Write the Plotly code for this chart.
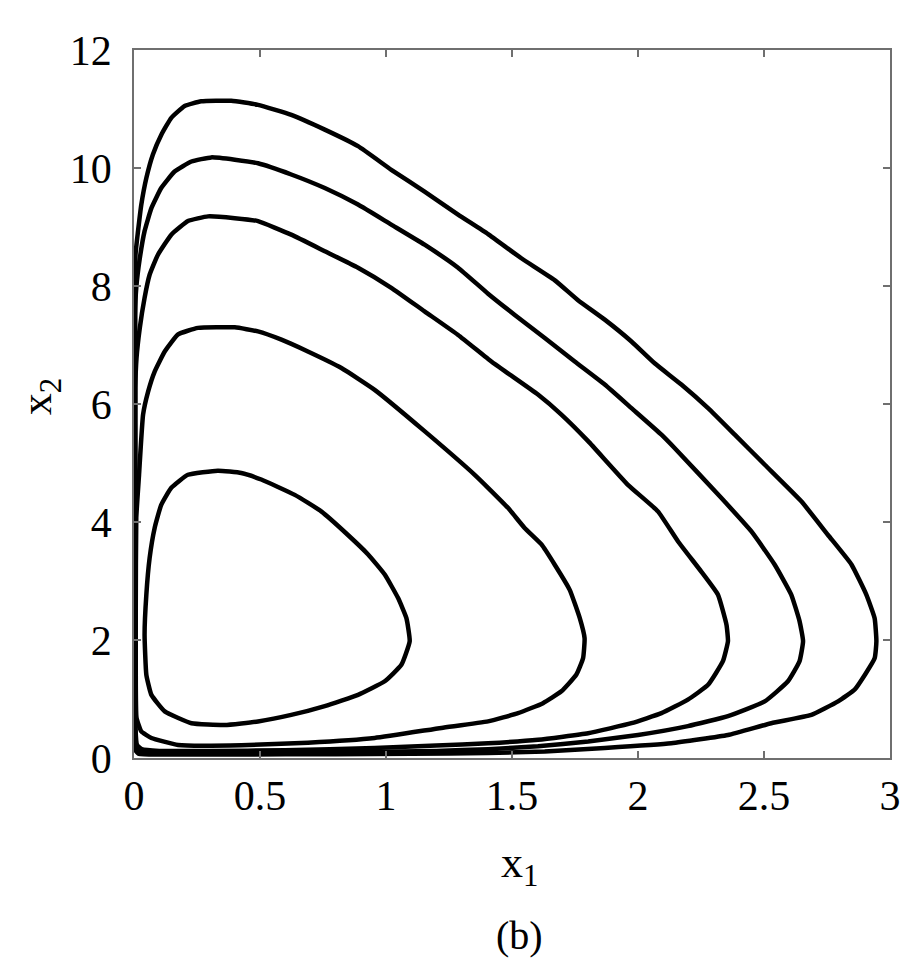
import plotly.graph_objects as go

# Traced orbits (x1, x2) for five closed trajectories, innermost to outermost
c1_x1 = [0.333, 0.426, 0.505, 0.638, 0.743, 0.849, 0.929, 0.995, 1.048, 1.081, 1.094, 1.061, 0.995, 0.889,
         0.757, 0.624, 0.492, 0.36, 0.228, 0.122, 0.069, 0.049, 0.042, 0.049, 0.062, 0.082, 0.108, 0.148,
         0.214, 0.333]
c1_x2 = [4.87, 4.83, 4.72, 4.46, 4.18, 3.78, 3.45, 3.11, 2.71, 2.37, 1.98, 1.58, 1.30, 1.07,
         0.88, 0.73, 0.62, 0.56, 0.59, 0.79, 1.07, 1.41, 2.09, 2.77, 3.39, 3.90, 4.29, 4.58,
         4.80, 4.87]

c2_x1 = [0.40, 0.492, 0.585, 0.690, 0.823, 0.955, 1.153, 1.352, 1.405, 1.484, 1.550, 1.617, 1.669,
         1.729, 1.769, 1.788, 1.782, 1.755, 1.696, 1.623, 1.524, 1.405, 1.22, 0.955, 0.69, 0.426, 0.175,
         0.069, 0.029, 0.010, 0.007, 0.007, 0.009, 0.020, 0.036, 0.056, 0.082, 0.122, 0.175, 0.254, 0.40]
c2_x2 = [7.30, 7.23, 7.09, 6.89, 6.61, 6.24, 5.54, 4.80, 4.58, 4.24, 3.90, 3.62, 3.28,
         2.85, 2.37, 2.03, 1.69, 1.41, 1.13, 0.93, 0.76, 0.62, 0.51, 0.34, 0.26, 0.215, 0.22,
         0.34, 0.45, 0.68, 1.5, 2.54, 4.07, 4.80, 5.82, 6.21, 6.55, 6.89, 7.18, 7.29, 7.30]

c3_x1 = [0.40, 0.492, 0.624, 0.757, 0.889, 1.021, 1.153, 1.286, 1.418, 1.484, 1.603, 1.696, 1.802, 1.960,
         2.079, 2.159, 2.251, 2.317, 2.351, 2.357, 2.337, 2.278, 2.198, 2.093, 1.974, 1.802, 1.603, 1.405,
         1.2, 0.955, 0.6, 0.3, 0.1, 0.03, 0.012, 0.006, 0.005, 0.005, 0.010, 0.023, 0.042, 0.062,
         0.095, 0.148, 0.214, 0.294, 0.40]
c3_x2 = [9.15, 9.10, 8.87, 8.59, 8.31, 7.97, 7.57, 7.17, 6.72, 6.52, 6.16, 5.82, 5.37, 4.63,
         4.18, 3.67, 3.16, 2.77, 2.26, 1.98, 1.64, 1.24, 0.99, 0.76, 0.59, 0.42, 0.31, 0.25,
         0.21, 0.17, 0.13, 0.12, 0.12, 0.15, 0.22, 0.5, 3.0, 6.27, 6.78, 7.29, 7.80, 8.19,
         8.53, 8.87, 9.10, 9.18, 9.15]

c4_x1 = [0.40, 0.492, 0.624, 0.757, 0.889, 1.021, 1.153, 1.286, 1.405, 1.511, 1.630, 1.749, 1.868, 1.974,
         2.093, 2.146, 2.33, 2.45, 2.542, 2.608, 2.641, 2.655, 2.641, 2.595, 2.503, 2.357, 2.198, 2.0,
         1.802, 1.603, 1.405, 1.2, 0.9, 0.5, 0.2, 0.05, 0.012, 0.005, 0.004, 0.004, 0.009, 0.023,
         0.042, 0.069, 0.108, 0.161, 0.228, 0.307, 0.40]
c4_x2 = [10.14, 10.08, 9.89, 9.66, 9.38, 9.04, 8.70, 8.31, 7.87, 7.51, 7.12, 6.72, 6.33, 5.93,
         5.48, 5.25, 4.41, 3.84, 3.28, 2.77, 2.32, 1.98, 1.64, 1.30, 0.96, 0.71, 0.54, 0.39,
         0.28, 0.20, 0.15, 0.12, 0.10, 0.09, 0.09, 0.10, 0.14, 0.3, 4.0, 7.51, 7.97, 8.47,
         8.93, 9.32, 9.66, 9.94, 10.11, 10.18, 10.14]

c5_x1 = [0.386, 0.492, 0.624, 0.757, 0.889, 1.021, 1.153, 1.286, 1.405, 1.537, 1.669, 1.762, 1.868, 1.974,
         2.066, 2.172, 2.278, 2.384, 2.503, 2.648, 2.754, 2.847, 2.906, 2.939, 2.946, 2.939, 2.860, 2.794,
         2.688, 2.529, 2.357, 2.132, 1.868, 1.630, 1.405, 1.1, 0.8, 0.4, 0.1, 0.02, 0.007, 0.005,
         0.005, 0.006, 0.016, 0.029, 0.049, 0.075, 0.108, 0.148, 0.201, 0.267, 0.386]
c5_x2 = [11.14, 11.07, 10.90, 10.65, 10.37, 9.97, 9.60, 9.21, 8.88, 8.47, 8.10, 7.76, 7.43, 7.06,
         6.69, 6.33, 5.93, 5.48, 4.97, 4.35, 3.78, 3.28, 2.77, 2.37, 1.98, 1.69, 1.16, 0.96,
         0.73, 0.59, 0.39, 0.25, 0.17, 0.11, 0.085, 0.07, 0.065, 0.06, 0.06, 0.07, 0.12, 0.3,
         5.0, 8.53, 8.93, 9.38, 9.83, 10.23, 10.56, 10.85, 11.05, 11.13, 11.14]

curves = [(c1_x1, c1_x2), (c2_x1, c2_x2), (c3_x1, c3_x2), (c4_x1, c4_x2), (c5_x1, c5_x2)]

x_tickvals = [0, 0.5, 1, 1.5, 2, 2.5, 3]
x_ticktext = ["0", "0.5", "1", "1.5", "2", "2.5", "3"]
y_tickvals = [0, 2, 4, 6, 8, 10, 12]
y_ticktext = ["0", "2", "4", "6", "8", "10", "12"]

FONT = "Liberation Serif"
AX = "#6f6f6f"

fig = go.Figure()
for xs, ys in curves:
    fig.add_trace(go.Scatter(x=xs, y=ys, mode="lines",
                             line=dict(color="black", width=4.5, shape="spline", smoothing=0.4),
                             showlegend=False, hoverinfo="skip"))

axis_common = dict(showgrid=False, zeroline=False, showline=True, linecolor=AX, linewidth=1.5,
                   mirror="ticks", ticks="inside", ticklen=7, tickwidth=1.5, tickcolor=AX,
                   tickfont=dict(family=FONT, size=42, color="black"))

fig.update_layout(
    width=912, height=964,
    margin=dict(l=126, r=30, t=42, b=214),
    paper_bgcolor="white", plot_bgcolor="white",
    xaxis=dict(range=[0, 3], tickvals=x_tickvals, ticktext=x_ticktext,
               ticklabelstandoff=0, **axis_common),
    yaxis=dict(range=[0, 12], tickvals=y_tickvals, ticktext=y_ticktext,
               ticklabelstandoff=12, **axis_common),
    annotations=[
        dict(text="x<sub>1</sub>", xref="paper", yref="paper", x=0.51, y=-0.152,
             xanchor="center", yanchor="middle", showarrow=False,
             font=dict(family=FONT, size=44, color="black")),
        dict(text="(b)", xref="paper", yref="paper", x=0.51, y=-0.25,
             xanchor="center", yanchor="middle", showarrow=False,
             font=dict(family=FONT, size=40, color="black")),
        dict(text="x<sub>2</sub>", xref="paper", yref="paper", x=-0.124, y=0.51,
             xanchor="center", yanchor="middle", showarrow=False, textangle=-90,
             font=dict(family=FONT, size=44, color="black")),
    ],
)

fig.write_html("out.html")
